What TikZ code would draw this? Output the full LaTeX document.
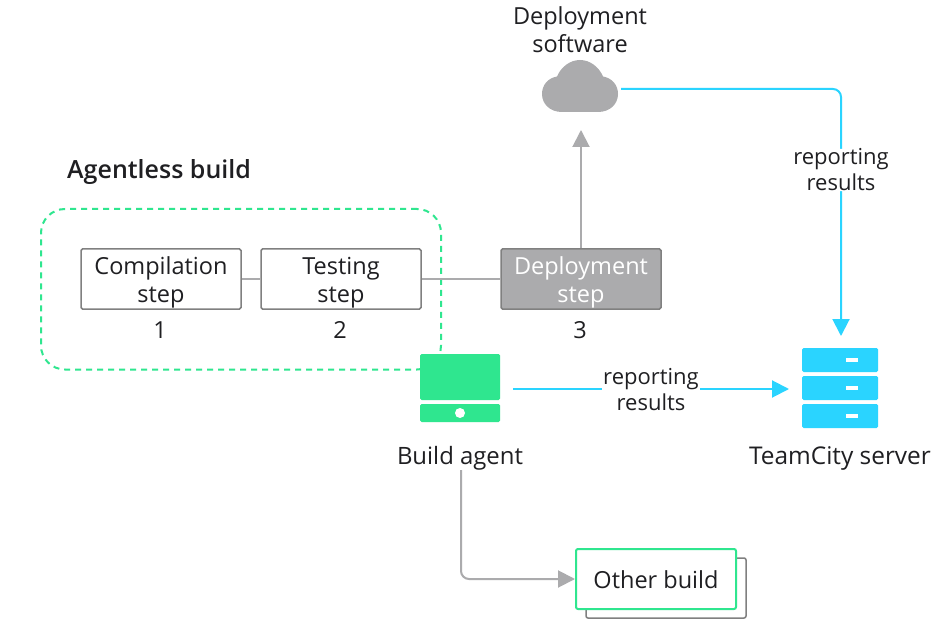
\documentclass[tikz,border=0pt]{standalone}
\usepackage{fontspec}
\setmainfont{Open Sans}
\newfontfamily\titlefont{Open Sans Semibold}
\usetikzlibrary{arrows.meta,positioning}
\definecolor{tcgreen}{HTML}{2FE68F}
\definecolor{tcblue}{HTML}{2AD4FF}
\definecolor{tcgray}{HTML}{ABABAD}
\definecolor{tcdark}{HTML}{808080}
\definecolor{tctext}{HTML}{1F1F22}
\newcommand{\lowertop}{\rule{0pt}{24pt}}
\tikzset{
  x=1pt,y=-1pt,
  every node/.style={font=\fontsize{23.5}{28}\selectfont,text=tctext,align=center,inner sep=0pt},
  stepbox/.style={draw=tcdark,line width=1.5pt,rounded corners=1.5pt,minimum width=160pt,minimum height=60pt},
  lab/.style={fill=white,inner xsep=1pt,inner ysep=0pt,font=\fontsize{22}{26}\selectfont},
  greyline/.style={draw=tcgray,line width=2pt,rounded corners=8pt},
  blueline/.style={draw=tcblue,line width=2pt,rounded corners=8pt},
  greyarrow/.style={greyline,-{Triangle[length=17pt,width=17pt]}},
  bluearrow/.style={blueline,-{Triangle[length=17pt,width=17pt]}},
  rack/.style={fill=tcblue,rounded corners=1.5pt,minimum width=76pt,minimum height=24pt},
  slot/.style={fill=white,minimum width=12pt,minimum height=4pt},
}
\begin{document}
\begin{tikzpicture}
\useasboundingbox (0,0) rectangle (934,620);
\fill[white] (0,0) rectangle (934,620);
% agentless group
\node[draw=tcgreen,line width=2pt,dash pattern=on 6pt off 5pt,rounded corners=24pt,minimum width=400pt,minimum height=160.5pt] (group) at (241,289.25) {};
\node[anchor=west,font=\fontsize{25}{28}\titlefont] (title) at (67,172.5) {Agentless build};
% steps
\node[stepbox] (s1) at (161,279) {\lowertop Compilation\\step};
\node[stepbox] (s2) at (341,279) {\lowertop Testing\\step};
\node[stepbox,fill=tcgray,text=white] (s3) at (581,279) {\lowertop Deployment\\step};
\node (n1) at (160,330) {1};
\node (n2) at (340,330) {2};
\node (n3) at (580,330) {3};
\draw[draw=tcgray,line width=2pt] (s1) -- (s2);
\draw[draw=tcgray,line width=2pt] (s2) -- (s3);
% cloud
\node (deplabel) at (580,30) {Deployment\\software};
\fill[tcgray] (562,112) .. controls (550,112) and (542,104) .. (542,94)
  .. controls (542,85) and (548,78) .. (557,76.5)
  .. controls (561,67) and (570,60) .. (580,60)
  .. controls (590,60) and (599,67) .. (603,76.5)
  .. controls (612,78) and (618,85) .. (618,94)
  .. controls (618,104) and (610,112) .. (598,112) -- cycle;
\coordinate (cloudE) at (621,89);
\coordinate (cloudS) at (581,130);
% build agent
\node[fill=tcgreen,rounded corners=1.5pt,minimum width=80pt,minimum height=46pt] (agentTop) at (460,377) {};
\node[fill=tcgreen,rounded corners=1.5pt,minimum width=80pt,minimum height=18pt] (agentBot) at (460,413) {};
\node[fill=white,circle,minimum size=10pt] (agentDot) at (460,413) {};
\node[font=\fontsize{23.9}{28}\selectfont] (agentlabel) at (460,458) {Build agent};
% server
\node[rack] (r1) at (840,360) {};
\node[rack] (r2) at (840,388) {};
\node[rack] (r3) at (840,416) {};
\node[slot] (o1) at (852,360) {};
\node[slot] (o2) at (852,388) {};
\node[slot] (o3) at (852,416) {};
\node[font=\fontsize{24.4}{28}\selectfont] (serverlabel) at (840,458) {TeamCity server};
% other build
\node[draw=tcdark,line width=1.5pt,rounded corners=2pt,fill=white,minimum width=160pt,minimum height=60pt] (ob2) at (666,588) {};
\node[draw=tcgreen,line width=2pt,rounded corners=2pt,fill=white,minimum width=160pt,minimum height=60pt,text height=23pt,text depth=5pt] (ob) at (656,579) {Other build};
% connectors
\coordinate (a1) at (461,470);
\coordinate (a2) at (513,389);
\coordinate (a3) at (789,389);
\coordinate (a4) at (841,336);
\draw[greyarrow] (s3.north) -- (cloudS);
\draw[greyarrow] (a1) |- (ob.west);
\draw[bluearrow] (a2) -- node[lab,yshift=-1pt] {reporting\\results} (a3);
\draw[bluearrow] (cloudE) -| node[lab,pos=0.664] {reporting\\results} (a4);
\end{tikzpicture}
\end{document}
